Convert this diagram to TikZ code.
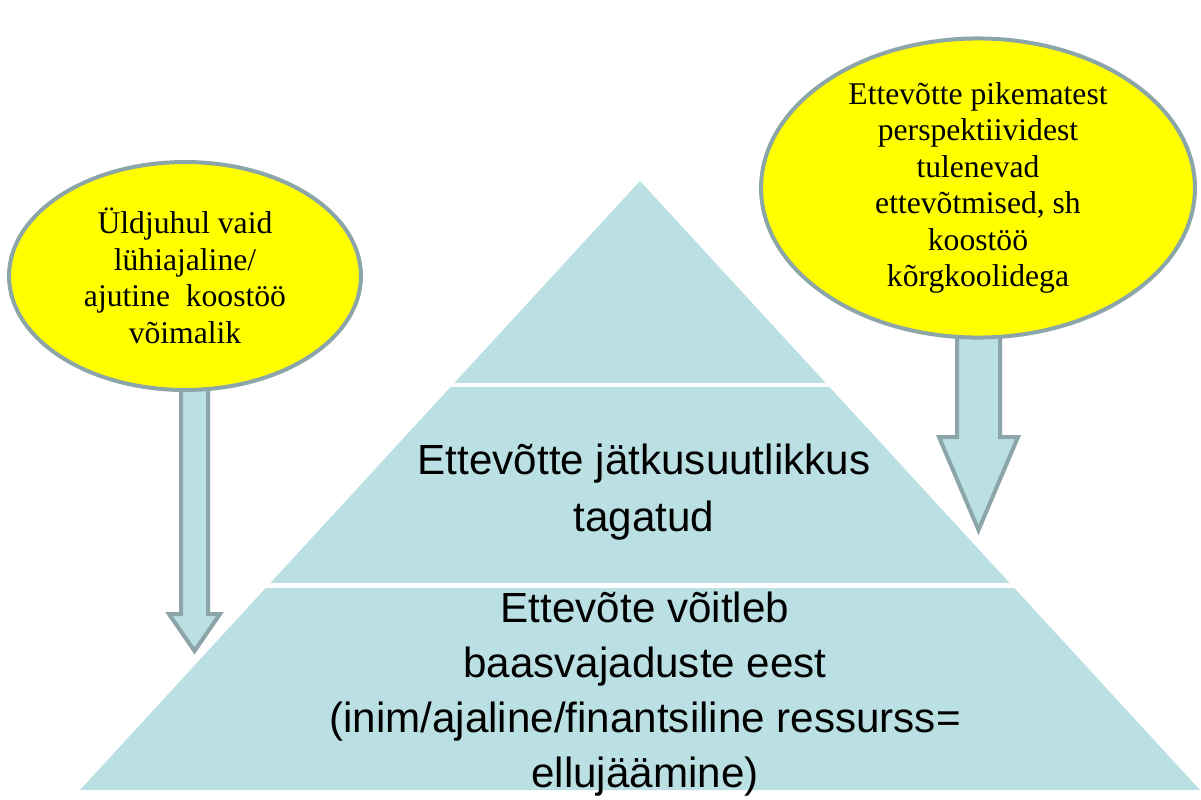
\documentclass[tikz,border=0pt]{standalone}
\usepackage{fontspec}
\setmainfont{Liberation Serif}
\newfontfamily\arialfont{Liberation Sans}
\usetikzlibrary{shapes.geometric}

\definecolor{pyrblue}{HTML}{BBE0E3}
\definecolor{rimgray}{HTML}{8BA5A8}
\definecolor{bubble}{HTML}{FFFF00}

\begin{document}
\begin{tikzpicture}[x=0.02cm, y=-0.02cm,
	bubblenode/.style={ellipse, draw=rimgray, fill=bubble, line width=0.08cm, inner sep=0pt, align=center, font=\fontsize{18}{20.8}\selectfont},
	blockarrow/.style={draw=rimgray, fill=pyrblue, line width=0.08cm, preaction={draw=white, line width=0.2cm}},
	layertext/.style={align=center, inner sep=0pt, font=\arialfont\fontsize{24}{32.3}\selectfont}]
	\useasboundingbox (0,0) rectangle (1201,799);

	% pyramid
	\coordinate (apex) at (640,181);
	\coordinate (bl) at (80,790);
	\coordinate (br) at (1200,790);
	\fill[pyrblue] (apex) -- (br) -- (bl) -- cycle;
	\draw[white, line width=0.09cm] (440,385) -- (840,385);
	\draw[white, line width=0.09cm] (250,585.5) -- (1030,585.5);

	\node[layertext] (mid) at (644,492) {Ettev\~otte j\"atkusuutlikkus\\tagatud};
	\node[layertext, font=\arialfont\fontsize{24}{31.2}\selectfont] (base) at (645,694) {Ettev\~ote v\~oitleb\\baasvajaduste eest\\(inim/ajaline/finantsiline ressurss=\\elluj\"a\"amine)};

	% arrows
	\draw[blockarrow] (181,370) -- (208,370) -- (208,614) -- (220,614) -- (194.5,651) -- (169,614) -- (181,614) -- cycle;
	\draw[blockarrow] (957,300) -- (1000,300) -- (1000,437) -- (1018,437) -- (978.5,530) -- (939,437) -- (957,437) -- cycle;

	% bubbles
	\node[bubblenode, minimum width=7.04cm, minimum height=4.56cm] (short) at (185,276) {\"Uldjuhul vaid\\l\"uhiajaline/\\ajutine~ koost\"o\"o\\v\~oimalik};
	\node[bubblenode, minimum width=8.68cm, minimum height=5.86cm] (long) at (978,188) {Ettev\~otte pikematest\\perspektiividest\\tulenevad\\ettev\~otmised, sh\\koost\"o\"o\\k\~orgkoolidega};
\end{tikzpicture}
\end{document}
